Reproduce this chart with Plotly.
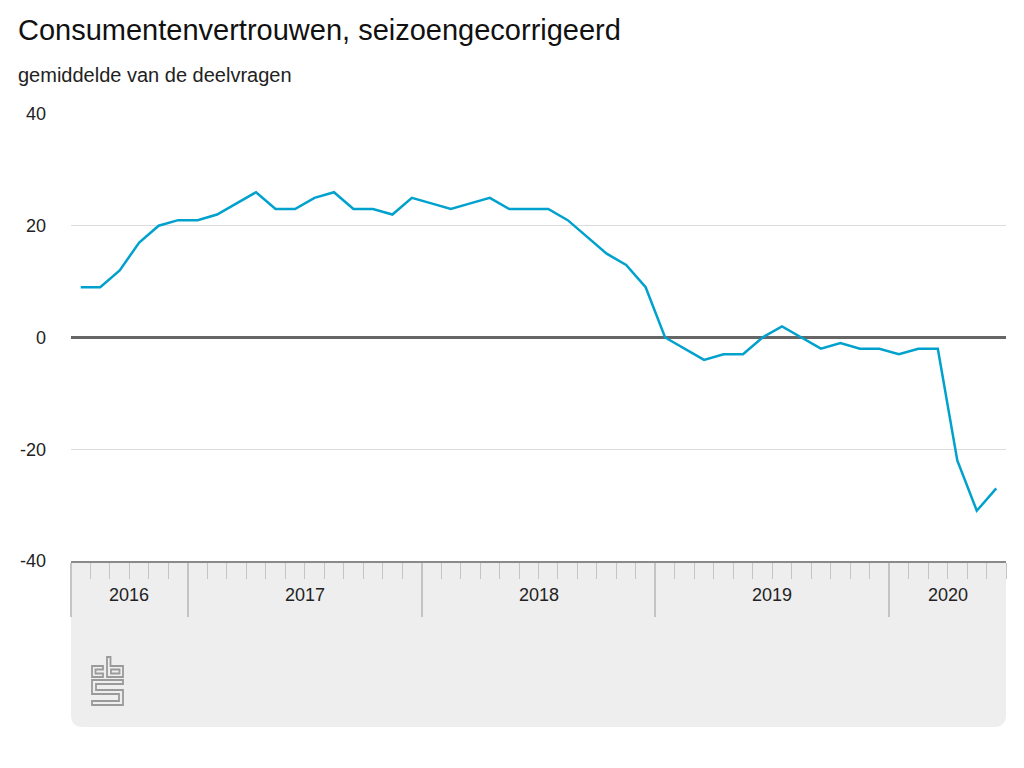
import plotly.graph_objects as go

# ---- data (Jul 2016 - Jun 2020, monthly) ----
years = ["2016", "2017", "2018", "2019", "2020"]
months_per_year = [6, 12, 12, 12, 6]
values = [
    9, 9, 12, 17, 20, 21,                                  # 2016 Jul-Dec
    21, 22, 24, 26, 23, 23, 25, 26, 23, 23, 22, 25,        # 2017
    24, 23, 24, 25, 23, 23, 23, 21, 18, 15, 13, 9,         # 2018
    0, -2, -4, -3, -3, 0, 2, 0, -2, -1, -2, -2,            # 2019
    -3, -2, -2, -22, -31, -27,                             # 2020 Jan-Jun
]
y_ticks = [-40, -20, 0, 20, 40]
y_tick_text = ["-40", "-20", "0", "20", "40"]

title = "Consumentenvertrouwen, seizoengecorrigeerd"
subtitle = "gemiddelde van de deelvragen"

W, H = 1024, 768
L, R, T, B = 71, 1006, 114, 561
FONT = "Arial, Liberation Sans, sans-serif"

def px(x):
    return (x - L) / (R - L)

def py(y):
    return (B - y) / (B - T)

x = list(range(len(values)))

fig = go.Figure()
fig.add_trace(go.Scatter(x=x, y=values, mode="lines",
                         line=dict(color="#00a1cd", width=2.5),
                         hoverinfo="skip", showlegend=False))

# year boundaries and month boundaries
starts = []
s = 0
for n in months_per_year:
    starts.append(s)
    s += n
major = [st - 0.5 for st in starts]
minor = [i - 0.5 for i in range(len(values) + 1) if (i - 0.5) not in major]

shapes = []
# grey band below the axis
x0, x1, yt, yb, r = px(L), px(R), py(B), py(727), 12
rx = r / (R - L)
ry = r / (B - T)
shapes.append(dict(
    type="path", xref="paper", yref="paper", layer="below",
    path=(f"M{x0},{yt} L{x1},{yt} L{x1},{yb + ry} Q{x1},{yb} {x1 - rx},{yb} "
          f"L{x0 + rx},{yb} Q{x0},{yb} {x0},{yb + ry} Z"),
    fillcolor="#eeeeee", line=dict(width=0)))

# cbs logo (approximate outline)
def logo_path(pts):
    return "M" + " L".join(f"{px(a)},{py(b)}" for a, b in pts) + " Z"

logo_parts = [
    [(103, 666), (92, 666), (92, 677), (103, 677), (103, 673.5), (95.5, 673.5), (95.5, 669.5), (103, 669.5)],
    [(107, 657), (110.5, 657), (110.5, 666), (123, 666), (123, 677), (107, 677)],
    [(111, 669.5), (119.5, 669.5), (119.5, 673.5), (111, 673.5)],
    [(92, 680), (123, 680), (123, 684), (96, 684), (96, 690), (123, 690), (123, 705),
     (92, 705), (92, 701), (119, 701), (119, 694), (92, 694)],
]
for p in logo_parts:
    shapes.append(dict(type="path", xref="paper", yref="paper", path=logo_path(p),
                       line=dict(color="#9a9a9a", width=1.8), fillcolor="rgba(0,0,0,0)"))

annotations = [
    dict(text=title, x=px(16), y=py(30), xref="paper", yref="paper",
         xanchor="left", yanchor="middle", showarrow=False,
         font=dict(family=FONT, size=29, color="#111")),
    dict(text=subtitle, x=px(16), y=py(75), xref="paper", yref="paper",
         xanchor="left", yanchor="middle", showarrow=False,
         font=dict(family=FONT, size=20, color="#222")),
]
for yr, st, n in zip(years, starts, months_per_year):
    annotations.append(dict(text=yr, x=st - 0.5 + n / 2, y=py(595), xref="x", yref="paper",
                            xanchor="center", yanchor="middle", showarrow=False,
                            font=dict(family=FONT, size=18, color="#222")))

fig.update_layout(
    width=W, height=H,
    margin=dict(l=L, r=W - R, t=T, b=H - B, pad=0),
    paper_bgcolor="white", plot_bgcolor="white",
    shapes=shapes, annotations=annotations,
    font=dict(family=FONT, size=18, color="#222"),
    xaxis=dict(range=[-0.5, len(values) - 0.5], showgrid=False, zeroline=False,
               tickmode="array", tickvals=major, ticktext=[""] * len(major),
               ticks="outside", ticklen=54, tickcolor="#c4c4c4", tickwidth=1.5,
               showline=True, linecolor="#8a8a8a", linewidth=1.5,
               minor=dict(tickmode="array", tickvals=minor, ticks="outside",
                          ticklen=16, tickcolor="#c4c4c4", tickwidth=1.2)),
    yaxis=dict(range=[-40, 40], tickmode="array", tickvals=y_ticks, ticktext=y_tick_text,
               showgrid=True, gridcolor="#dddddd", gridwidth=1,
               zeroline=True, zerolinecolor="#666666", zerolinewidth=3,
               ticks="", ticklabelstandoff=24,
               tickfont=dict(family=FONT, size=18, color="#222")),
)

fig.write_html("out.html")
